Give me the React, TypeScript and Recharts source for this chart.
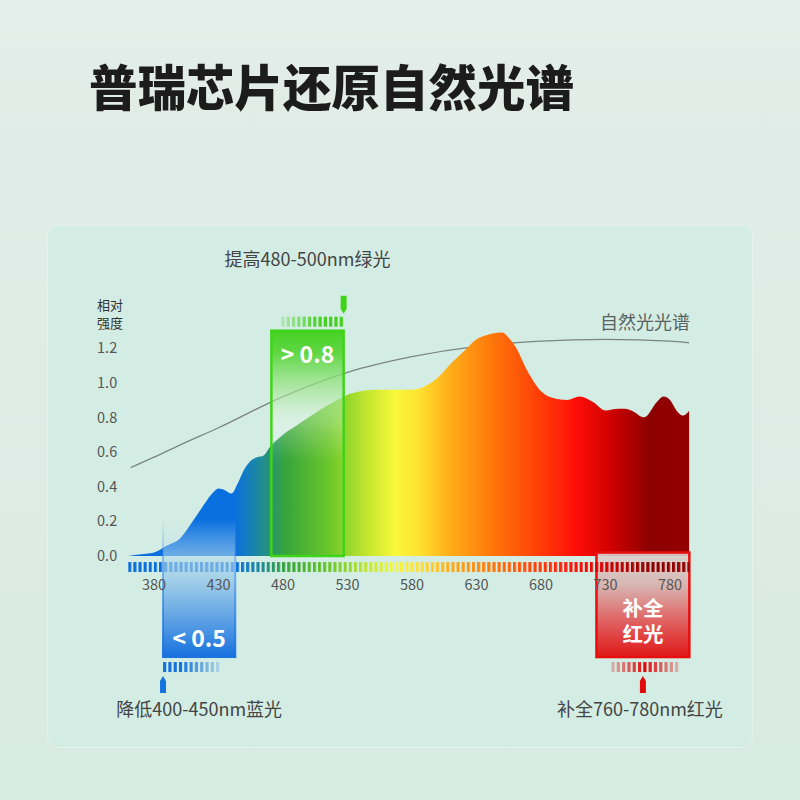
import React from 'react';
import { ComposedChart, Area, XAxis, YAxis, ReferenceArea } from 'recharts';

// 光谱数据（波长 nm → 相对强度）
const wavelengths = [360, 370, 380, 390, 400, 410, 420, 425, 430, 435, 440, 445, 450, 455, 460, 465, 470, 480, 490, 500, 510, 520, 530, 540, 550, 560, 570, 580, 590, 600, 610, 620, 630, 640, 650, 655, 660, 670, 680, 690, 700, 710, 720, 730, 740, 745, 750, 760, 770, 775, 780, 785, 790, 795];
const intensity = [0.0, 0.01, 0.02, 0.06, 0.1, 0.2, 0.31, 0.36, 0.39, 0.38, 0.36, 0.42, 0.5, 0.55, 0.57, 0.58, 0.63, 0.7, 0.75, 0.8, 0.85, 0.89, 0.93, 0.95, 0.96, 0.96, 0.96, 0.96, 0.98, 1.03, 1.11, 1.18, 1.25, 1.28, 1.29, 1.26, 1.21, 1.06, 0.95, 0.91, 0.9, 0.92, 0.89, 0.84, 0.85, 0.85, 0.84, 0.8, 0.89, 0.92, 0.9, 0.84, 0.81, 0.84];

// 自然光光谱曲线
const naturalNm = [362, 380, 400, 430, 480, 530, 580, 630, 680, 730, 780, 795];
const naturalVal = [0.51, 0.57, 0.64, 0.74, 0.92, 1.06, 1.15, 1.21, 1.24, 1.25, 1.24, 1.23];

const xTicks = [380, 430, 480, 530, 580, 630, 680, 730, 780];
const yTicks = [0, 0.2, 0.4, 0.6, 0.8, 1.0, 1.2];

// 高亮波段
const greenBand = [471, 527];
const blueBand = [387, 443];
const redBand = [723, 795];

const spectrum = wavelengths.map((nm, i) => ({ nm, v: intensity[i] }));
const natural = naturalNm.map((nm, i) => ({ nm, v: naturalVal[i] }));

const FONT = '"Noto Sans CJK SC", "Noto Sans", sans-serif';

const Stripes = ({ x, y, n, color, op }: any) => (
  <g>
    {Array.from({ length: n }).map((_, i) => (
      <rect key={i} x={x + i * 5.3} y={y} width={3.2} height={10} fill={color} fillOpacity={op(i)} />
    ))}
  </g>
);

const GreenBox = (p: any) => {
  const { x, y, width, height } = p;
  const px = x + width;
  return (
    <g>
      <rect x={x} y={y} width={width} height={height} fill="url(#greenFill)" stroke="#3fd41a" strokeWidth={2.5} />
      <text x={x + width / 2} y={y + 22} textAnchor="middle" dominantBaseline="central" fill="#fff" fontSize={23} fontWeight={700}>
        {'> 0.8'}
      </text>
      <Stripes x={x + 10} y={y - 14} n={12} color="#46d020" op={(i: number) => Math.min(1, 0.25 + i * 0.11)} />
      <path d={`M${px - 3},${y - 35} L${px + 3},${y - 35} L${px + 3},${y - 22} L${px},${y - 17} L${px - 3},${y - 22} Z`} fill="#3fd41a" />
      <text x={x + width / 2} y={y - 73} textAnchor="middle" dominantBaseline="central" fill="#444" fontSize={18}>
        提高480-500nm绿光
      </text>
    </g>
  );
};

const BlueBox = (p: any) => {
  const { x, y, width, height } = p;
  const b = y + height;
  return (
    <g>
      <rect x={x} y={y} width={width} height={height} fill="url(#blueFill)" stroke="url(#blueStroke)" strokeWidth={2} />
      <text x={x + width / 2} y={b - 20} textAnchor="middle" dominantBaseline="central" fill="#fff" fontSize={23} fontWeight={700}>
        {'< 0.5'}
      </text>
      <Stripes x={x} y={b + 5} n={11} color="#1573de" op={(i: number) => Math.max(0.2, 1 - Math.max(0, i - 3) * 0.11)} />
      <path d={`M${x - 3},${b + 36} L${x + 3},${b + 36} L${x + 3},${b + 24} L${x},${b + 19} L${x - 3},${b + 24} Z`} fill="#1573de" />
      <text x={x + width / 2} y={b + 51} textAnchor="middle" dominantBaseline="central" fill="#444" fontSize={18}>
        降低400-450nm蓝光
      </text>
    </g>
  );
};

const RedBox = (p: any) => {
  const { x, y, width, height } = p;
  const b = y + height;
  const cx = x + width / 2;
  return (
    <g>
      <rect x={x} y={y} width={width} height={height} fill="url(#redFill)" stroke="#e80e0e" strokeWidth={2.5} />
      <text x={cx} y={b - 50} textAnchor="middle" dominantBaseline="central" fill="#fff" fontSize={20.5} fontWeight={700}>补全</text>
      <text x={cx} y={b - 24} textAnchor="middle" dominantBaseline="central" fill="#fff" fontSize={20.5} fontWeight={700}>红光</text>
      <Stripes x={x + 15} y={b + 5} n={13} color="#e00a0a" op={(i: number) => 1 - Math.abs(i - 6) * 0.12} />
      <path d={`M${cx - 3},${b + 36} L${cx + 3},${b + 36} L${cx + 3},${b + 24} L${cx},${b + 19} L${cx - 3},${b + 24} Z`} fill="#e00a0a" />
      <text x={cx - 3} y={b + 51} textAnchor="middle" dominantBaseline="central" fill="#444" fontSize={18}>
        补全760-780nm红光
      </text>
    </g>
  );
};

const StripeBand = (p: any) => {
  const { x, y, width, height } = p;
  return <rect x={x} y={y} width={width} height={height} fill="url(#spec)" mask="url(#stripeMask)" />;
};

const App = () => (
  <div style={{ position: 'absolute', left: 0, top: 0, width: 800, height: 800, overflow: 'hidden', fontFamily: FONT, background: 'linear-gradient(180deg, #e3ede9 0%, #d8ebe3 100%)' }}>
    <div style={{ position: 'absolute', left: 47, top: 225, width: 704, height: 521, borderRadius: 10, background: '#d3ede4', border: '1px solid #e4f3ed' }} />
    <div style={{ position: 'absolute', left: 89, top: 57, fontSize: 48.5, lineHeight: '56px', fontWeight: 900, color: '#1c1c1c', whiteSpace: 'nowrap' }}>
      普瑞芯片还原自然光谱
    </div>
    <div style={{ position: 'absolute', left: 97, top: 296, fontSize: 13, lineHeight: '17.5px', color: '#333' }}>
      相对<br />强度
    </div>
    <div style={{ position: 'absolute', left: 600, top: 310, fontSize: 18, lineHeight: '22px', color: '#5a6262' }}>自然光光谱</div>
    <div style={{ position: 'absolute', left: 0, top: 0 }}>
      <ComposedChart
        width={800}
        height={800}
        margin={{ top: 330.7, right: 110.65, bottom: 204, left: 68.2 }}
        style={{ fontFamily: FONT }}
      >
        <defs>
          <linearGradient id="spec" x1="0" y1="0" x2="1" y2="0">
            <stop offset="0" stopColor="#0a6fdf" />
            <stop offset="0.19" stopColor="#0a70e0" />
            <stop offset="0.235" stopColor="#1e8a9a" />
            <stop offset="0.28" stopColor="#35a43a" />
            <stop offset="0.36" stopColor="#6cc82a" />
            <stop offset="0.43" stopColor="#c8e830" />
            <stop offset="0.475" stopColor="#f8f83a" />
            <stop offset="0.52" stopColor="#ffe030" />
            <stop offset="0.57" stopColor="#ffb01a" />
            <stop offset="0.645" stopColor="#ff7a0a" />
            <stop offset="0.715" stopColor="#ff4a08" />
            <stop offset="0.795" stopColor="#ff1008" />
            <stop offset="0.86" stopColor="#d00000" />
            <stop offset="0.93" stopColor="#8c0000" />
            <stop offset="1" stopColor="#960000" />
          </linearGradient>
          <linearGradient id="greenFill" x1="0" y1="0" x2="0" y2="1">
            <stop offset="0" stopColor="#46d224" stopOpacity={1} />
            <stop offset="0.1" stopColor="#5ad63c" stopOpacity={0.95} />
            <stop offset="0.3" stopColor="#b0e8a0" stopOpacity={0.6} />
            <stop offset="0.45" stopColor="#ffffff" stopOpacity={0.2} />
            <stop offset="0.58" stopColor="#ffffff" stopOpacity={0} />
            <stop offset="1" stopColor="#ffffff" stopOpacity={0} />
          </linearGradient>
          <linearGradient id="blueFill" x1="0" y1="0" x2="0" y2="1">
            <stop offset="0" stopColor="#cfe7f0" stopOpacity={0} />
            <stop offset="0.25" stopColor="#b5dbea" stopOpacity={0.55} />
            <stop offset="0.55" stopColor="#7ab5e8" stopOpacity={0.85} />
            <stop offset="1" stopColor="#1570de" stopOpacity={1} />
          </linearGradient>
          <linearGradient id="blueStroke" x1="0" y1="0" x2="0" y2="1">
            <stop offset="0" stopColor="#3a8ae6" stopOpacity={0} />
            <stop offset="0.3" stopColor="#3a8ae6" stopOpacity={0.5} />
            <stop offset="1" stopColor="#1b74de" stopOpacity={1} />
          </linearGradient>
          <linearGradient id="redFill" x1="0" y1="0" x2="0" y2="1">
            <stop offset="0" stopColor="#d8d2ce" stopOpacity={0.9} />
            <stop offset="0.3" stopColor="#d8b8b4" stopOpacity={1} />
            <stop offset="0.7" stopColor="#e05858" stopOpacity={1} />
            <stop offset="1" stopColor="#e01818" stopOpacity={1} />
          </linearGradient>
          <pattern id="stripePat" patternUnits="userSpaceOnUse" x={128.2} y={0} width={5.13} height={20}>
            <rect x={0} y={0} width={3.1} height={20} fill="#fff" />
          </pattern>
          <mask id="stripeMask" maskUnits="userSpaceOnUse" x={0} y={0} width={800} height={800}>
            <rect x={0} y={0} width={800} height={800} fill="url(#stripePat)" />
          </mask>
        </defs>
        <XAxis
          type="number"
          dataKey="nm"
          domain={[360, 795]}
          ticks={xTicks}
          axisLine={false}
          tickLine={false}
          tickMargin={18}
          height={40}
          allowDataOverflow
          tick={{ fill: '#555', fontSize: 14.5 }}
        />
        <YAxis
          type="number"
          domain={[0, 1.3]}
          ticks={yTicks}
          axisLine={false}
          tickLine={false}
          tickMargin={5}
          width={60}
          allowDataOverflow
          tickFormatter={(v: number) => v.toFixed(1)}
          tick={{ fill: '#555', fontSize: 14.5 }}
        />
        <Area data={natural} dataKey="v" type="monotone" stroke="#7b8583" strokeWidth={1.3} fill="none" dot={false} activeDot={false} isAnimationActive={false} />
        <Area data={spectrum} dataKey="v" type="monotone" stroke="none" fill="url(#spec)" fillOpacity={1} isAnimationActive={false} />
        <ReferenceArea x1={redBand[0]} x2={redBand[1]} y1={-0.583} y2={0.02} ifOverflow="visible" shape={RedBox} />
        <ReferenceArea x1={360} x2={795} y1={-0.092} y2={-0.035} ifOverflow="visible" shape={StripeBand} />
        <ReferenceArea x1={greenBand[0]} x2={greenBand[1]} y1={0} y2={1.3} ifOverflow="visible" shape={GreenBox} />
        <ReferenceArea x1={blueBand[0]} x2={blueBand[1]} y1={-0.583} y2={0.21} ifOverflow="visible" shape={BlueBox} />
      </ComposedChart>
    </div>
  </div>
);

export default App;
